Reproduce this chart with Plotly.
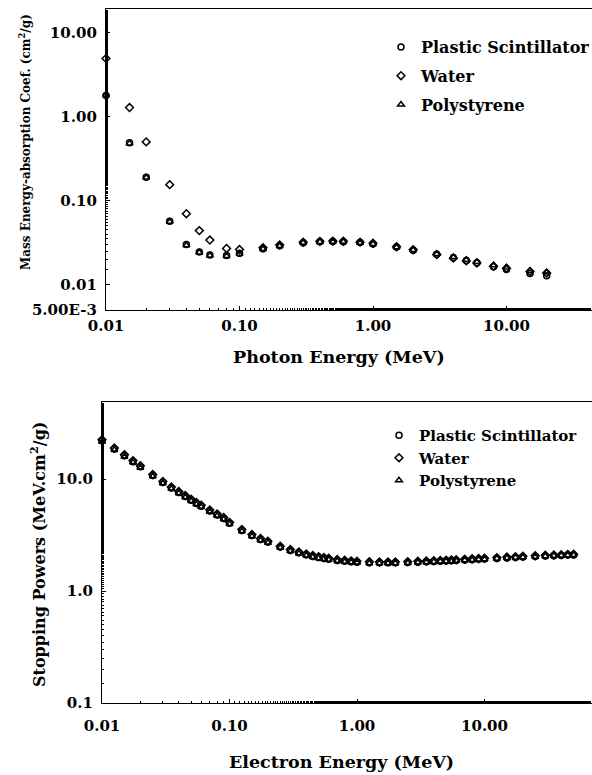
import plotly.graph_objects as go

# ---------------- Data: photon mass energy-absorption coefficients (cm^2/g)
photon_energy = [0.01, 0.015, 0.02, 0.03, 0.04, 0.05, 0.06, 0.08, 0.1, 0.15, 0.2, 0.3, 0.4,
                 0.5, 0.6, 0.8, 1.0, 1.5, 2, 3, 4, 5, 6, 8, 10, 15, 20]
muen_plastic = [1.78, 0.49, 0.19, 0.057, 0.030, 0.0245, 0.0225, 0.0222, 0.0236, 0.0268, 0.0290,
                0.0316, 0.0324, 0.0326, 0.0325, 0.0317, 0.0305, 0.0280, 0.0257, 0.0230, 0.0210,
                0.0194, 0.0182, 0.0163, 0.0152, 0.0136, 0.0128]
muen_water = [4.90, 1.28, 0.50, 0.155, 0.070, 0.044, 0.034, 0.027, 0.0262, 0.0275, 0.0297,
              0.0320, 0.0328, 0.0330, 0.0329, 0.0321, 0.0311, 0.0283, 0.0261, 0.0228, 0.0207,
              0.0192, 0.0181, 0.0166, 0.0157, 0.0144, 0.0138]
muen_polystyrene = [1.82, 0.48, 0.188, 0.056, 0.0295, 0.0242, 0.0222, 0.0220, 0.0234, 0.0266,
                    0.0289, 0.0315, 0.0323, 0.0325, 0.0324, 0.0316, 0.0304, 0.0279, 0.0258,
                    0.0232, 0.0213, 0.0198, 0.0186, 0.0170, 0.0160, 0.0146, 0.0140]

# ---------------- Data: electron stopping powers (MeV cm^2/g)
electron_energy = [0.01, 0.0125, 0.015, 0.0175, 0.02, 0.025, 0.03, 0.035, 0.04, 0.045, 0.05,
                   0.055, 0.06, 0.07, 0.08, 0.09, 0.1, 0.125, 0.15, 0.175, 0.2, 0.25, 0.3,
                   0.35, 0.4, 0.45, 0.5, 0.55, 0.6, 0.7, 0.8, 0.9, 1.0, 1.25, 1.5, 1.75, 2.0,
                   2.5, 3.0, 3.5, 4.0, 4.5, 5.0, 5.5, 6.0, 7.0, 8.0, 9.0, 10, 12.5, 15, 17.5,
                   20, 25, 30, 35, 40, 45, 50]
sp_water = [22.56, 19.05, 16.55, 14.67, 13.19, 11.03, 9.55, 8.52, 7.76, 7.16, 6.61, 6.20,
            5.86, 5.31, 4.88, 4.55, 4.115, 3.55, 3.20, 2.95, 2.793, 2.52, 2.355, 2.24, 2.148,
            2.08, 2.034, 1.998, 1.963, 1.917, 1.886, 1.864, 1.849, 1.829, 1.822, 1.824, 1.824,
            1.834, 1.846, 1.858, 1.870, 1.882, 1.892, 1.902, 1.911, 1.928, 1.943, 1.956,
            1.968, 1.993, 2.014, 2.031, 2.046, 2.070, 2.089, 2.105, 2.118, 2.130, 2.140]
sp_plastic = [22.05, 18.63, 16.19, 14.35, 12.91, 10.80, 9.35, 8.35, 7.60, 7.01, 6.48, 6.07,
              5.74, 5.20, 4.78, 4.46, 4.03, 3.48, 3.14, 2.89, 2.740, 2.472, 2.310, 2.198,
              2.108, 2.041, 1.996, 1.961, 1.927, 1.882, 1.851, 1.830, 1.815, 1.796, 1.789,
              1.791, 1.791, 1.801, 1.813, 1.825, 1.837, 1.849, 1.859, 1.869, 1.878, 1.895,
              1.910, 1.923, 1.935, 1.960, 1.981, 1.998, 2.013, 2.037, 2.056, 2.072, 2.085,
              2.097, 2.107]
sp_polystyrene = [21.62, 18.28, 15.89, 14.09, 12.68, 10.61, 9.19, 8.21, 7.48, 6.90, 6.38,
                  5.98, 5.65, 5.12, 4.71, 4.39, 3.97, 3.43, 3.09, 2.85, 2.700, 2.437, 2.278,
                  2.168, 2.080, 2.014, 1.970, 1.935, 1.902, 1.858, 1.828, 1.807, 1.794, 1.776,
                  1.770, 1.773, 1.774, 1.785, 1.798, 1.811, 1.824, 1.836, 1.847, 1.857, 1.866,
                  1.884, 1.899, 1.913, 1.925, 1.951, 1.973, 1.991, 2.006, 2.031, 2.051, 2.068,
                  2.082, 2.094, 2.105]

series_names = ["Plastic Scintillator", "Water", "Polystyrene"]
symbols = ["circle-open", "diamond-open", "triangle-up-open"]

top_x_ticks = [0.01, 0.1, 1, 10]
top_x_text = ["0.01", "0.10", "1.00", "10.00"]
top_y_ticks = [0.005, 0.01, 0.1, 1, 10]
top_y_text = ["5.00E-3", "0.01", "0.10", "1.00", "10.00"]
bot_x_ticks = [0.01, 0.1, 1, 10]
bot_x_text = ["0.01", "0.10", "1.00", "10.00"]
bot_y_ticks = [0.1, 1, 10]
bot_y_text = ["0.1", "1.0", "10.0"]

W, H = 592, 775
FONT = "DejaVu Serif"

fig = go.Figure()

for name, sym, ys in zip(series_names, symbols, [muen_plastic, muen_water, muen_polystyrene]):
    fig.add_trace(go.Scatter(
        x=photon_energy, y=ys, mode="markers", name=name, xaxis="x", yaxis="y",
        legend="legend", legendgroup="a" + name, cliponaxis=False,
        marker=dict(symbol=sym, size=6, color="black", line=dict(color="black", width=1.5)),
    ))

for name, sym, ys in zip(series_names, symbols, [sp_plastic, sp_water, sp_polystyrene]):
    fig.add_trace(go.Scatter(
        x=electron_energy, y=ys, mode="markers", name=name, xaxis="x2", yaxis="y2",
        legend="legend2", legendgroup="b" + name, cliponaxis=False,
        marker=dict(symbol=sym, size=6, color="black", line=dict(color="black", width=1.5)),
    ))

tickfont = dict(family=FONT, size=15, color="black", weight="bold")
minor = dict(ticks="inside", ticklen=2, tickcolor="black", showgrid=False)

common_axis = dict(
    type="log", showline=True, linecolor="black", linewidth=1.3, ticks="inside",
    ticklen=4, tickwidth=1, tickcolor="black", showgrid=False, zeroline=False,
    tickfont=tickfont, minor=minor, automargin=False,
)

legfont = dict(family=FONT, size=16, color="black", weight="bold")
legfont2 = dict(family=FONT, size=15, color="black", weight="bold")

fig.update_layout(
    width=W, height=H, margin=dict(l=0, r=0, t=0, b=0, autoexpand=False),
    paper_bgcolor="white", plot_bgcolor="white",
    font=dict(family=FONT, color="black"),
    xaxis=dict(common_axis, domain=[106 / W, 1], range=[-2, -2 + (W - 106) / 133.5],
               tickvals=top_x_ticks, ticktext=top_x_text, mirror=True, anchor="y",
               ticklabelstandoff=2),
    yaxis=dict(common_axis, domain=[1 - 310 / H, 1 - 9 / H], range=[-2.301, 1.28],
               tickvals=top_y_ticks, ticktext=top_y_text, anchor="x",
               ticklabelstandoff=5),
    xaxis2=dict(common_axis, domain=[102 / W, 1], range=[-2, -2 + (W - 102) / 127.5],
                tickvals=bot_x_ticks, ticktext=bot_x_text, mirror=True, anchor="y2",
                ticklabelstandoff=9),
    yaxis2=dict(common_axis, domain=[1 - 703 / H, 1 - 402 / H], range=[-1, 1.69],
                tickvals=bot_y_ticks, ticktext=bot_y_text, anchor="x2",
                ticklabelstandoff=5),
    legend=dict(x=381 / W, y=1 - 30 / H, xanchor="left", yanchor="top",
                font=legfont, tracegroupgap=5, bgcolor="rgba(0,0,0,0)"),
    legend2=dict(x=379 / W, y=1 - 419 / H, xanchor="left", yanchor="top",
                 font=legfont2, tracegroupgap=0, bgcolor="rgba(0,0,0,0)"),
    showlegend=True,
)

annotations = [
    dict(text="Photon Energy (MeV)", x=339 / W, y=1 - 357 / H, xref="paper", yref="paper",
         showarrow=False, font=dict(family=FONT, size=17.5, weight="bold"),
         xanchor="center", yanchor="middle"),
    dict(text="Electron Energy (MeV)", x=341 / W, y=1 - 762 / H, xref="paper", yref="paper",
         showarrow=False, font=dict(family=FONT, size=17.5, weight="bold"),
         xanchor="center", yanchor="middle"),
    dict(text="Mass Energy-absorption Coef. (cm<sup>2</sup>/g)", x=25 / W, y=1 - 142 / H,
         xref="paper", yref="paper", showarrow=False, textangle=-90,
         font=dict(family=FONT, size=12, weight="bold"), xanchor="center", yanchor="middle"),
    dict(text="Stopping Powers (MeV.cm<sup>2</sup>/g)", x=38 / W, y=1 - 555 / H,
         xref="paper", yref="paper", showarrow=False, textangle=-90,
         font=dict(family=FONT, size=16, weight="bold"), xanchor="center", yanchor="middle"),
]
fig.update_layout(annotations=annotations)

fig.write_html("out.html")
